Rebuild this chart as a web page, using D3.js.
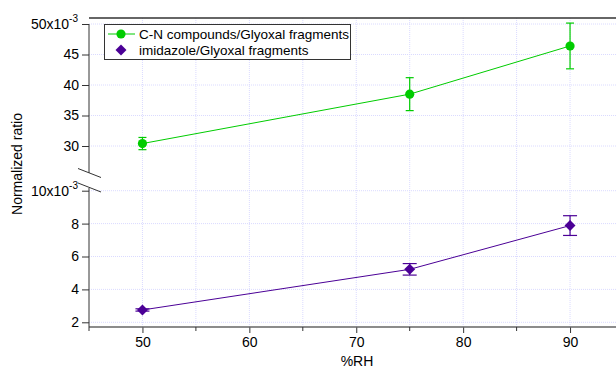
<!DOCTYPE html>
<html>
<head>
<meta charset="utf-8">
<script src="https://cdn.jsdelivr.net/npm/d3@7"></script>
<style>
  body { margin: 0; background: #fff; }
  svg { font-family: "Liberation Sans", Arial, sans-serif; }
</style>
</head>
<body>
<div id="chart"></div>
<script>
// data
const rh = [50, 75, 90];
const cnRatio = [30.4, 38.5, 46.4];      // x10^-3
const cnErr = [1.0, 2.7, 3.75];
const imRatio = [2.75, 5.22, 7.88];      // x10^-3
const imErr = [0.07, 0.35, 0.6];
const xTicks = [50, 60, 70, 80, 90];
const xMinor = [45, 55, 65, 75, 85, 95];
const upperTicks = [30, 35, 40, 45, 50];
const lowerTicks = [2, 4, 6, 8, 10];
const seriesNames = ["C-N compounds/Glyoxal fragments", "imidazole/Glyoxal fragments"];

const W = 616, H = 370;
const green = "#00cc00", purple = "#4b0096", gridColor = "#dadaff";

const svg = d3.select("#chart").append("svg")
    .attr("width", W)
    .attr("height", H);

// scales
const x = d3.scaleLinear().domain([45, 95]).range([89, 623.5]);
const yUp = d3.scaleLinear().domain([30, 50]).range([146, 24]);
const yLow = d3.scaleLinear().domain([2, 10]).range([322.3, 190.7]);

const plotLeft = 89, plotBottom = 327, plotTop = 18;

// square diamond marker (rotated square)
const diamond = d3.symbolSquare;

// grid
const gGrid = svg.append("g")
    .attr("stroke", gridColor)
    .attr("stroke-dasharray", "1,1")
    .attr("stroke-width", 1);

gGrid.selectAll(".vg")
    .data(xMinor.concat(xTicks).filter(d => d > 45))
    .enter().append("line")
    .attr("x1", d => x(d)).attr("x2", d => x(d))
    .attr("y1", plotTop).attr("y2", plotBottom);

gGrid.selectAll(".hu")
    .data(upperTicks)
    .enter().append("line")
    .attr("x1", plotLeft).attr("x2", W)
    .attr("y1", d => yUp(d)).attr("y2", d => yUp(d));

gGrid.selectAll(".hl")
    .data(lowerTicks)
    .enter().append("line")
    .attr("x1", plotLeft).attr("x2", W)
    .attr("y1", d => yLow(d)).attr("y2", d => yLow(d));

// frame top
svg.append("line")
    .attr("x1", plotLeft).attr("x2", W)
    .attr("y1", plotTop).attr("y2", plotTop)
    .attr("stroke", "#333").attr("stroke-width", 1.5);

// x axis
const xAxis = svg.append("g")
    .attr("transform", `translate(0,${plotBottom})`)
    .call(d3.axisBottom(x).tickValues(xTicks).tickSize(6).tickPadding(4));
xAxis.select(".domain").remove();
xAxis.append("line")
    .attr("x1", plotLeft).attr("x2", W)
    .attr("stroke", "#666").attr("stroke-width", 1.5);
xAxis.selectAll(".minor")
    .data(xMinor)
    .enter().append("line")
    .attr("x1", d => x(d)).attr("x2", d => x(d))
    .attr("y1", 0).attr("y2", 4)
    .attr("stroke", "#333");
xAxis.selectAll("text")
    .attr("font-size", 14)
    .attr("fill", "#000")
    .attr("font-family", "Liberation Sans, Arial, sans-serif");
xAxis.selectAll(".tick line").attr("stroke", "#333");

// upper y axis
const upAxis = svg.append("g")
    .attr("transform", `translate(${plotLeft},0)`)
    .call(d3.axisLeft(yUp).tickValues(upperTicks).tickSize(7).tickPadding(3)
        .tickFormat(d => d === 50 ? "" : d));
upAxis.select(".domain").remove();
upAxis.append("line")
    .attr("y1", yUp(50)).attr("y2", 173)
    .attr("stroke", "#333");

// lower y axis
const lowAxis = svg.append("g")
    .attr("transform", `translate(${plotLeft},0)`)
    .call(d3.axisLeft(yLow).tickValues(lowerTicks).tickSize(7).tickPadding(3)
        .tickFormat(d => d === 10 ? "" : d));
lowAxis.select(".domain").remove();
lowAxis.append("line")
    .attr("y1", 188).attr("y2", plotBottom)
    .attr("stroke", "#333");

[upAxis, lowAxis].forEach(a => {
    a.selectAll("text")
        .attr("font-size", 14)
        .attr("fill", "#000")
        .attr("font-family", "Liberation Sans, Arial, sans-serif");
    a.selectAll(".tick line").attr("stroke", "#333");
});

// exponent labels on top ticks
function expLabel(yPos, base) {
    const t = svg.append("text")
        .attr("x", 78)
        .attr("y", yPos + 5)
        .attr("text-anchor", "end")
        .attr("font-size", 14);
    t.append("tspan").text(base + "x10");
    t.append("tspan")
        .attr("font-size", 10)
        .attr("dy", -7)
        .text("-3");
}
expLabel(yUp(50), 50);
expLabel(yLow(10), 10);

// axis break marks
svg.selectAll(".brk")
    .data([168.5, 183])
    .enter().append("line")
    .attr("x1", 78).attr("x2", 101)
    .attr("y1", d => d).attr("y2", d => d + 9)
    .attr("stroke", "#333");

// series
function drawSeries(vals, errs, y, color, capW, isDiamond) {
    const pts = rh.map((r, i) => ({ r, v: vals[i], e: errs[i] }));
    const g = svg.append("g");
    g.append("path")
        .datum(pts)
        .attr("fill", "none")
        .attr("stroke", color)
        .attr("stroke-width", 1)
        .attr("d", d3.line().x(d => x(d.r)).y(d => y(d.v)));
    const eb = g.selectAll(".eb").data(pts).enter().append("g")
        .attr("stroke", color).attr("stroke-width", 1.2);
    eb.append("line")
        .attr("x1", d => x(d.r)).attr("x2", d => x(d.r))
        .attr("y1", d => y(d.v - d.e)).attr("y2", d => y(d.v + d.e));
    eb.append("line")
        .attr("x1", d => x(d.r) - capW / 2).attr("x2", d => x(d.r) + capW / 2)
        .attr("y1", d => y(d.v - d.e)).attr("y2", d => y(d.v - d.e));
    eb.append("line")
        .attr("x1", d => x(d.r) - capW / 2).attr("x2", d => x(d.r) + capW / 2)
        .attr("y1", d => y(d.v + d.e)).attr("y2", d => y(d.v + d.e));
    g.selectAll(".pt").data(pts).enter().append("path")
        .attr("transform", d => `translate(${x(d.r)},${y(d.v)})` + (isDiamond ? " rotate(45)" : ""))
        .attr("d", d3.symbol().type(isDiamond ? diamond : d3.symbolCircle).size(isDiamond ? 60 : 66))
        .attr("fill", color);
}
drawSeries(cnRatio, cnErr, yUp, green, 8, false);
drawSeries(imRatio, imErr, yLow, purple, 14, true);

// legend
const leg = svg.append("g");
leg.append("rect")
    .attr("x", 104.5).attr("y", 24.5)
    .attr("width", 246).attr("height", 35)
    .attr("fill", "#fff").attr("stroke", "#333");
const legRows = leg.selectAll(".lr")
    .data(seriesNames)
    .enter().append("g")
    .attr("transform", (d, i) => `translate(0,${34 + i * 16})`);
legRows.filter((d, i) => i === 0).append("line")
    .attr("x1", 108).attr("x2", 135)
    .attr("stroke", green);
legRows.append("path")
    .attr("transform", (d, i) => "translate(121,0)" + (i === 1 ? " rotate(45)" : ""))
    .attr("d", (d, i) => d3.symbol().type(i === 0 ? d3.symbolCircle : diamond).size(i === 0 ? 66 : 60)())
    .attr("fill", (d, i) => i === 0 ? green : purple);
legRows.append("text")
    .attr("x", 139).attr("y", 5)
    .attr("font-size", 13.5)
    .text(d => d);

// axis titles
svg.append("text")
    .attr("x", 357).attr("y", 366)
    .attr("text-anchor", "middle")
    .attr("font-size", 14)
    .text("%RH");

svg.append("text")
    .attr("transform", "translate(22,164) rotate(-90)")
    .attr("text-anchor", "middle")
    .attr("font-size", 14)
    .text("Normalized ratio");
</script>
</body>
</html>
